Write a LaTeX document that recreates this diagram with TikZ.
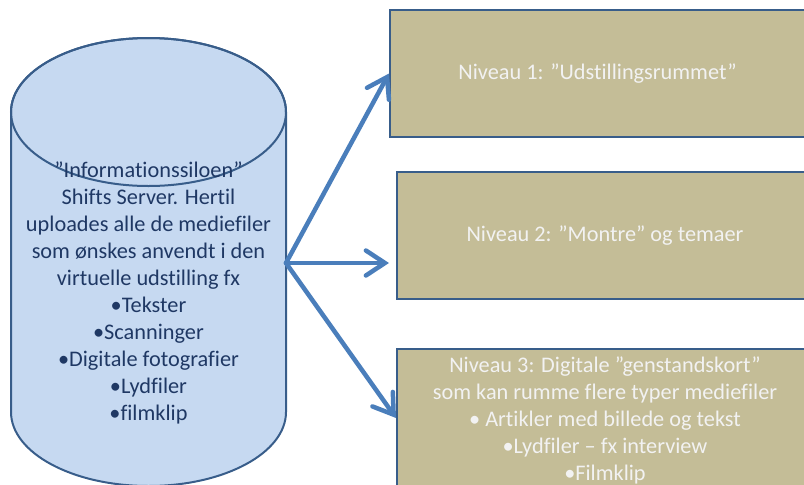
\documentclass[tikz,border=0pt]{standalone}
\usepackage{fontspec}
\setmainfont{Carlito}[Ligatures={NoCommon}]
\usetikzlibrary{arrows.meta}
\definecolor{cylfill}{HTML}{C6D9F1}
\definecolor{cyledge}{HTML}{385D8A}
\definecolor{cyltext}{HTML}{1F3864}
\definecolor{boxfill}{HTML}{C4BD97}
\definecolor{boxedge}{HTML}{385D8A}
\definecolor{arrowc}{HTML}{4A7EBB}
\definecolor{boxtext}{HTML}{F2F2F2}
\begin{document}
\begin{tikzpicture}[x=1pt,y=-1pt,
  cyl/.style={fill=cylfill,draw=cyledge,line width=2pt},
  txt/.style={font=\fontsize{22.3}{27}\selectfont,align=center},
  levelbox/.style={draw=boxedge,fill=boxfill,line width=2pt,rectangle,inner sep=0pt,
    text=boxtext,txt},
  flow/.style={draw=arrowc,line width=4.5pt,line cap=round,
    -{Straight Barb[length=19pt,width=25pt,line cap=round]}}]
\useasboundingbox (0,0) rectangle (804,485);
\clip (0,0) rectangle (804,485);
% cylinder
\path[cyl] (11,112) -- (11,412) arc[start angle=180,end angle=0,x radius=137.5,y radius=74]
  -- (286,112) arc[start angle=0,end angle=-180,x radius=137.5,y radius=74] -- cycle;
\draw[cyledge,line width=2pt] (148.5,112) ellipse[x radius=137.5,y radius=74];
\node[text=cyltext,txt] (silo) at (148.5,293)
 {”Informationssiloen”\\Shifts Server. Hertil\\uploades alle de mediefiler\\som ønskes anvendt i den\\virtuelle udstilling fx\\•Tekster\\•Scanninger\\•Digitale fotografier\\•Lydfiler\\•filmklip};
\coordinate (src) at (286,263);
% boxes
\node[levelbox,minimum width=415pt,minimum height=127pt] (b1) at (597.5,73.5) {Niveau 1: ”Udstillingsrummet”};
\node[levelbox,minimum width=416pt,minimum height=127pt] (b2) at (605,235.5) {Niveau 2: ”Montre” og temaer};
\node[levelbox,minimum width=416pt,minimum height=138pt,anchor=north] (b3) at (605,348) {};
\node[text=boxtext,txt,anchor=north] (b3t) at (605,353)
 {Niveau 3: Digitale ”genstandskort”\\som kan rumme flere typer mediefiler\\• Artikler med billede og tekst\\•Lydfiler – fx interview\\•Filmklip};
% arrows
\draw[flow] (src) -- (b1.west);
\draw[flow,shorten >=7pt] (src) -- (b2.west |- src);
\draw[flow] (src) -- (b3.west);
\end{tikzpicture}
\end{document}
